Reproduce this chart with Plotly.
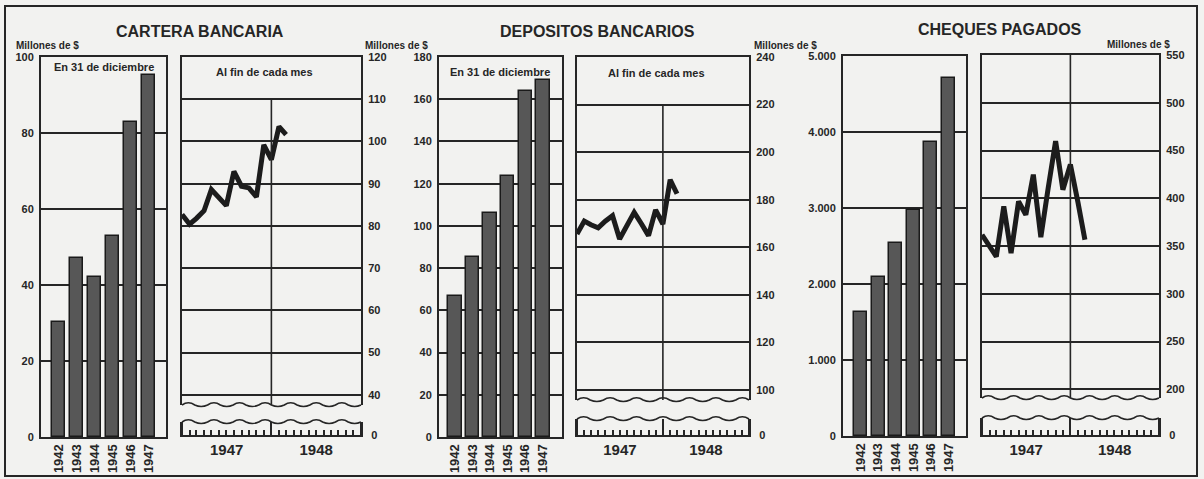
import plotly.graph_objects as go

W, H = 1204, 479

# ---------------- data ----------------
years = ['1942', '1943', '1944', '1945', '1946', '1947']
cartera_anual = [30.2, 47.2, 42.0, 52.9, 83.0, 95.3]
depositos_anual = [66.8, 85.3, 106.2, 123.6, 164.0, 169.0]
cheques_anual = [1632, 2092, 2540, 2979, 3868, 4716]

# end-of-month readings (Dec 1946 ... Feb 1948), placed at month boundary
meses = ['1947-01-01', '1947-02-01', '1947-03-01', '1947-04-01', '1947-05-01',
         '1947-06-01', '1947-07-01', '1947-08-01', '1947-09-01', '1947-10-01',
         '1947-11-01', '1947-12-01', '1948-01-01', '1948-02-01', '1948-03-01']
cartera_mensual = [82.7, 80.4, 81.8, 83.6, 88.6, 86.5, 84.8, 92.9, 89.4, 89.0,
                   86.9, 99.2, 95.7, 103.5, 101.6]
depositos_mensual = [165.6, 171.0, 169.5, 168.2, 171.0, 173.3, 163.5, 169.0, 174.7,
                     170.0, 164.9, 175.7, 169.8, 188.4, 182.5]
cheques_mensual = [361.8, 350.0, 339.0, 391.5, 342.5, 396.7, 382.8, 424.8, 359.3,
                   410.0, 459.8, 409.0, 435.3, 396.0, 356.5]

bar_ticks_1 = [0, 20, 40, 60, 80, 100]
bar_ticks_2 = [0, 20, 40, 60, 80, 100, 120, 140, 160, 180]
bar_ticks_3 = [0, 1000, 2000, 3000, 4000, 5000]
bar_text_3 = ['0', '1.000', '2.000', '3.000', '4.000', '5.000']
line_ticks_1 = [40, 50, 60, 70, 80, 90, 100, 110, 120]
line_ticks_2 = [100, 120, 140, 160, 180, 200, 220, 240]
line_ticks_3 = [200, 250, 300, 350, 400, 450, 500, 550]

# ---------------- helpers ----------------
INK = '#262626'
BG = '#f2f2f0'
FONT = 'Liberation Sans'
RANGE_DATES = ['1947-01-01', '1949-01-01']


def fx(p):
    return p / W


def fy(p):
    return 1 - p / H


def nm(n):
    return '' if n == 1 else str(n)


layout = dict(width=W, height=H, autosize=False, margin=dict(l=0, r=0, t=0, b=0, pad=0),
              paper_bgcolor=BG, plot_bgcolor=BG, showlegend=False,
              font=dict(family=FONT, color=INK))


def bar_axes(n, xpx, ypx, xrange, yrange, tickvals, ticktext):
    layout['xaxis' + nm(n)] = dict(
        domain=[fx(xpx[0]), fx(xpx[1])], anchor='y' + nm(n), type='category',
        range=xrange, showline=True, mirror=True, linecolor=INK, linewidth=2,
        ticks='', tickangle=-90, tickfont=dict(size=13, weight='bold'),
        showgrid=False, fixedrange=True, automargin=False)
    layout['yaxis' + nm(n)] = dict(
        domain=[fy(ypx[1]), fy(ypx[0])], anchor='x' + nm(n), range=yrange,
        showline=True, mirror=True, linecolor=INK, linewidth=2,
        tickmode='array', tickvals=tickvals, ticktext=ticktext,
        showgrid=True, gridcolor=INK, gridwidth=2, ticks='', zeroline=False,
        tickfont=dict(size=11, weight='bold'), ticklabelstandoff=3, automargin=False)


def line_axes(n, xpx, top, wave_y, yrange, tickvals):
    layout['xaxis' + nm(n)] = dict(
        domain=[fx(xpx[0]), fx(xpx[1])], anchor='y' + nm(n), type='date',
        range=RANGE_DATES, showline=True, side='top', linecolor=INK, linewidth=2,
        showticklabels=False, ticks='', showgrid=False, automargin=False)
    layout['yaxis' + nm(n)] = dict(
        domain=[fy(wave_y), fy(top)], anchor='x' + nm(n), range=yrange,
        side='right', showline=True, mirror=True, linecolor=INK, linewidth=2,
        tickmode='array', tickvals=tickvals, ticktext=[str(v) for v in tickvals],
        showgrid=True, gridcolor=INK, gridwidth=2, ticks='', zeroline=False,
        tickfont=dict(size=11, weight='bold'), ticklabelstandoff=3, automargin=False)


def strip_axes(n, xpx, top, bottom):
    layout['xaxis' + nm(n)] = dict(
        domain=[fx(xpx[0]), fx(xpx[1])], anchor='y' + nm(n), type='date',
        range=RANGE_DATES, showline=True, linecolor=INK, linewidth=2,
        ticks='inside', ticklen=bottom - top, tickwidth=2, tickcolor=INK,
        tickmode='linear', tick0='1947-01-01', dtick='M12', ticklabelmode='period',
        tickformat='%Y', tickfont=dict(size=15, weight='bold'), showgrid=False,
        automargin=False,
        minor=dict(ticks='inside', ticklen=5, tickwidth=1.5, tickcolor=INK,
                   dtick='M1', tick0='1947-01-01', showgrid=False))
    layout['yaxis' + nm(n)] = dict(
        domain=[fy(bottom), fy(top)], anchor='x' + nm(n), range=[0, 1],
        side='right', showline=True, mirror=True, linecolor=INK, linewidth=2,
        tickmode='array', tickvals=[0], ticktext=['0'], showgrid=False,
        ticks='', zeroline=False, tickfont=dict(size=11, weight='bold'),
        ticklabelstandoff=6, automargin=False)


def wave(x0, x1, y, amp=2.2, period=13):
    n = max(2, round((x1 - x0) / period))
    step = (x1 - x0) / n
    d = 'M %.5f,%.5f' % (fx(x0), fy(y))
    for i in range(n):
        xa = x0 + step * (i + 0.5)
        xb = x0 + step * (i + 1)
        a = amp * (1 if i % 2 == 0 else -0.7)
        d += ' Q %.5f,%.5f %.5f,%.5f' % (fx(xa), fy(y - 2 * a), fx(xb), fy(y))
    return dict(type='path', path=d, xref='paper', yref='paper',
                line=dict(color=INK, width=1.6))


# ---------------- axes ----------------
bar_axes(1, (41, 166), (57, 437), [-0.97, 5.97], [0, 100], bar_ticks_1,
         [str(v) for v in bar_ticks_1])
line_axes(2, (182, 361), 57, 405, [37.6, 120], line_ticks_1)
strip_axes(3, (182, 361), 422, 435)

bar_axes(4, (439, 562), (57, 437), [-0.9, 6.09], [0, 180], bar_ticks_2,
         [str(v) for v in bar_ticks_2])
line_axes(5, (577, 749), 57, 400, [95.8, 240], line_ticks_2)
strip_axes(6, (577, 749), 419, 435)

bar_axes(7, (843, 966), (56, 436), [-1.0, 6.0], [0, 5000], bar_ticks_3, bar_text_3)
line_axes(8, (982, 1159), 55, 398, [190.9, 550], line_ticks_3)
strip_axes(9, (982, 1159), 418, 435)

# ---------------- traces ----------------
fig = go.Figure()
bar_style = dict(marker=dict(color='#575757', line=dict(color='#1a1a1a', width=1.5)))
fig.add_trace(go.Bar(x=years, y=cartera_anual, width=0.72, xaxis='x', yaxis='y', **bar_style))
fig.add_trace(go.Bar(x=years, y=depositos_anual, width=0.76, xaxis='x4', yaxis='y4', **bar_style))
fig.add_trace(go.Bar(x=years, y=cheques_anual, width=0.74, xaxis='x7', yaxis='y7', **bar_style))

line_style = dict(mode='lines', line=dict(color='#1c1c1c', width=5))
fig.add_trace(go.Scatter(x=meses, y=cartera_mensual, xaxis='x2', yaxis='y2', **line_style))
fig.add_trace(go.Scatter(x=meses, y=depositos_mensual, xaxis='x5', yaxis='y5', **line_style))
fig.add_trace(go.Scatter(x=meses, y=cheques_mensual, xaxis='x8', yaxis='y8', **line_style))

# empty traces so the month-ruler strips are drawn
for ax in ('3', '6', '9'):
    fig.add_trace(go.Scatter(x=RANGE_DATES, y=[None, None], mode='lines',
                             xaxis='x' + ax, yaxis='y' + ax, hoverinfo='skip'))

# ---------------- decorations ----------------
shapes = [
    dict(type='rect', xref='paper', yref='paper', x0=fx(5), x1=fx(1197),
         y0=fy(476), y1=fy(6), line=dict(color=INK, width=2)),
    # year divider inside each monthly panel
    dict(type='line', xref='x2', yref='y2', x0='1948-01-01', x1='1948-01-01',
         y0=37.6, y1=110, line=dict(color=INK, width=1.6)),
    dict(type='line', xref='x5', yref='y5', x0='1948-01-01', x1='1948-01-01',
         y0=95.8, y1=220, line=dict(color=INK, width=1.6)),
    dict(type='line', xref='x8', yref='y8', x0='1948-01-01', x1='1948-01-01',
         y0=190.9, y1=550, line=dict(color=INK, width=1.6)),
    wave(182, 361, 405), wave(182, 361, 422),
    wave(577, 749, 400), wave(577, 749, 419),
    wave(982, 1159, 398), wave(982, 1159, 418),
]

ann = []


def text(t, x, y, size, xanchor='center', weight='bold'):
    ann.append(dict(text=t, x=fx(x), y=fy(y), xref='paper', yref='paper',
                    xanchor=xanchor, yanchor='middle', showarrow=False,
                    font=dict(size=size, weight=weight, color=INK, family=FONT)))


text('CARTERA BANCARIA', 200, 31, 16)
text('DEPOSITOS BANCARIOS', 597, 31, 16)
text('CHEQUES PAGADOS', 1000, 30, 16)
text('Millones de $', 14, 45, 10, 'left')
text('Millones de $', 363, 45, 10, 'left')
text('Millones de $', 752, 45, 10, 'left')
text('Millones de $', 1105, 44, 10, 'left')
text('En 31 de diciembre', 104, 67, 11)
text('En 31 de diciembre', 500, 72, 11)
text('Al fin de cada mes', 264, 72, 11)
text('Al fin de cada mes', 656, 73, 11)

layout['shapes'] = shapes
layout['annotations'] = ann
fig.update_layout(**layout)
fig.update_layout(bargap=0)

fig.write_html('out.html', config={'responsive': False, 'displayModeBar': False},
               post_script="document.body.style.margin='0';document.body.style.padding='0';")
